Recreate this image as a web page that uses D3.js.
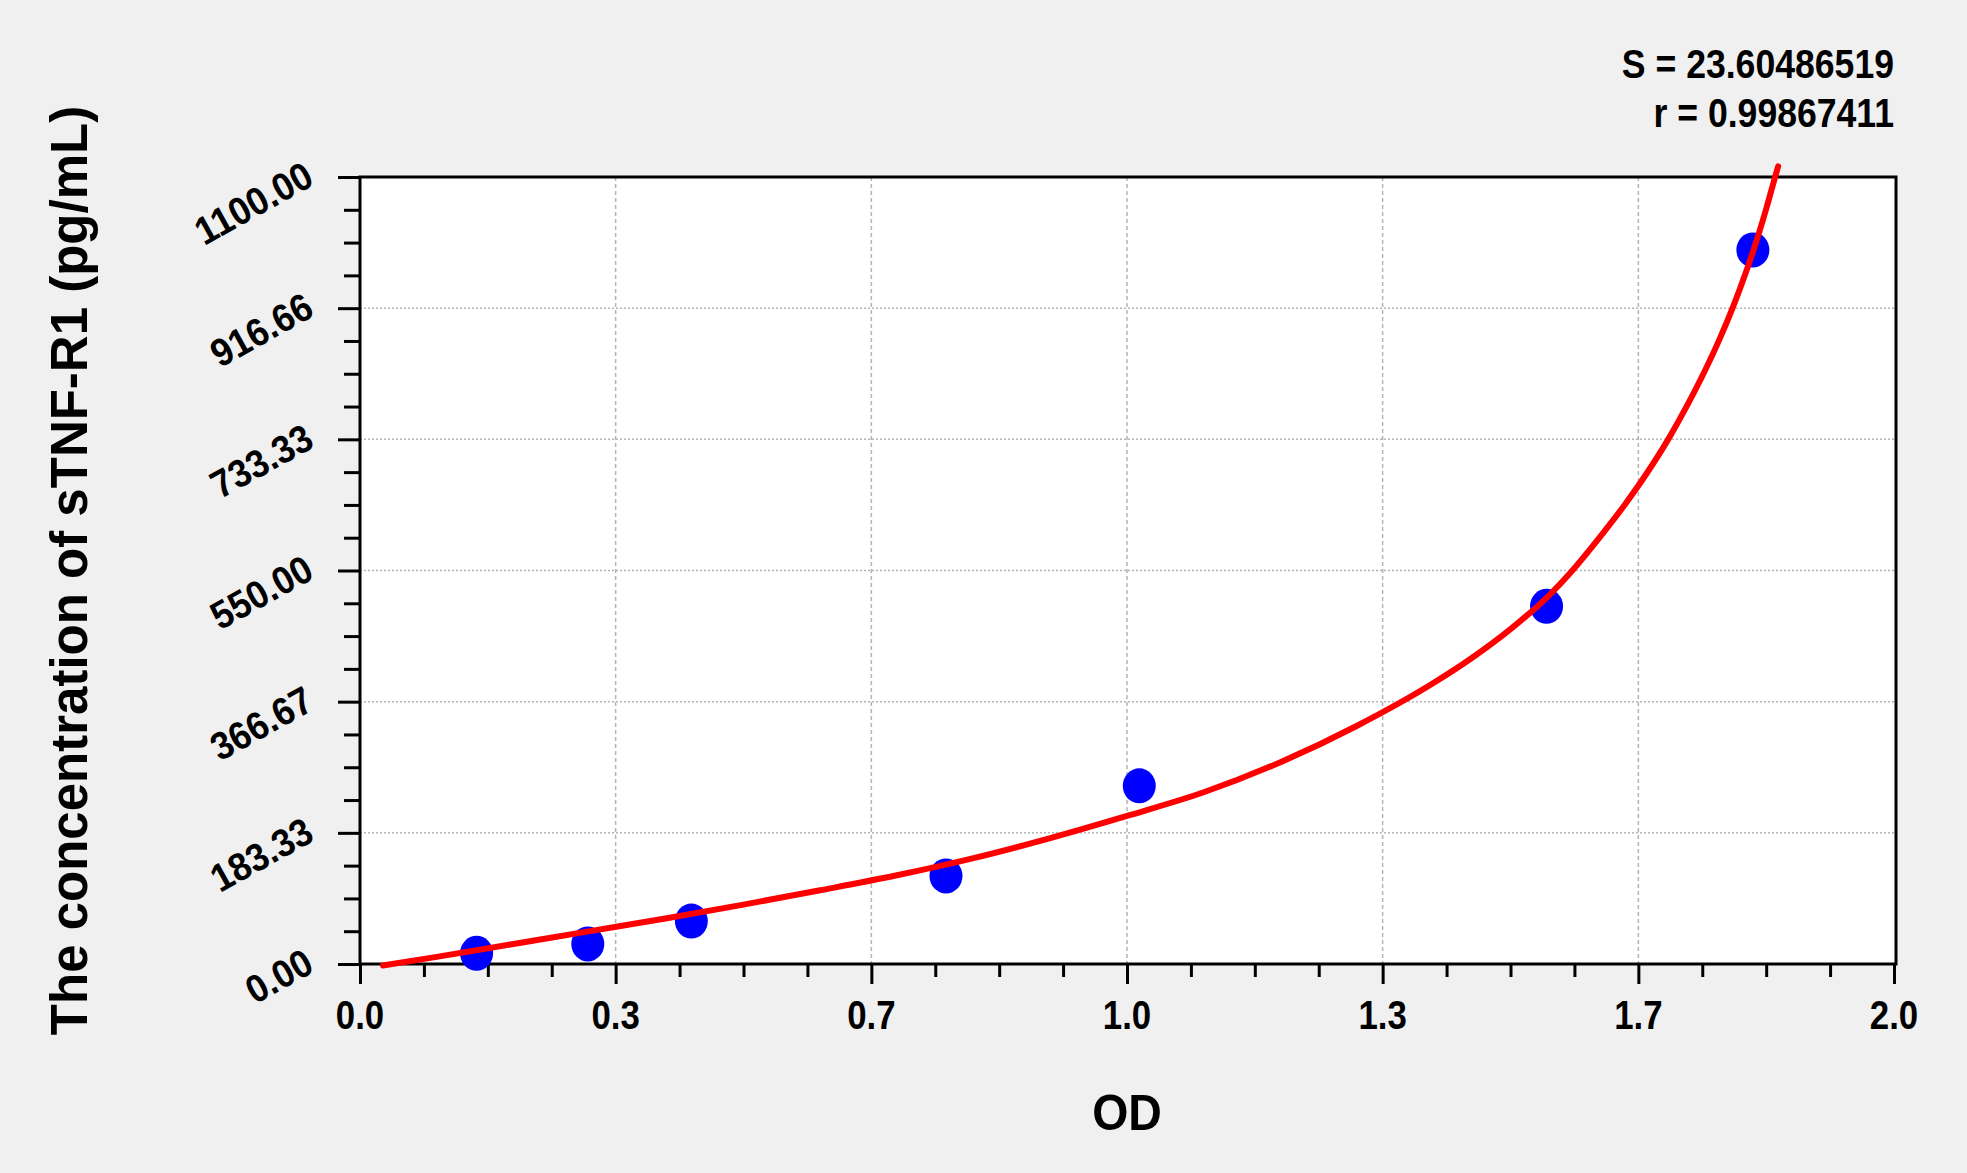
<!DOCTYPE html>
<html>
<head>
<meta charset="utf-8">
<script src="https://cdn.jsdelivr.net/npm/d3@7"></script>
<style>
    body { margin: 0; background: #f0f0f0; }
    text { font-family: 'Liberation Sans', Arial, sans-serif; font-weight: bold; fill: #000; }
</style>
</head>
<body>
<svg width="1967" height="1173"></svg>
<script>
// standards (OD vs concentration)
const odValues = [0.152, 0.297, 0.432, 0.764, 1.016, 1.547, 1.816];
const concValues = [15, 28, 60, 123, 249, 500, 998];

// fitted curve
const fitOD = [0.03, 0.1, 0.2, 0.3, 0.4, 0.5, 0.6, 0.7, 0.8, 0.9,
    1.0, 1.1, 1.2, 1.3, 1.4, 1.45, 1.5, 1.55, 1.579, 1.616,
    1.649, 1.679, 1.706, 1.730, 1.752, 1.772, 1.790, 1.806, 1.8205, 1.8335,
    1.8455, 1.849];
const fitConc = [-2, 10, 28, 46, 64, 83, 103, 124, 148, 176,
    207, 240, 282, 333, 393, 428, 468, 515, 548, 596,
    642, 688, 734, 780, 826, 872, 918, 964, 1010, 1056,
    1102, 1115];

const xTickValues = [0, 0.3333, 0.6667, 1.0, 1.3333, 1.6667, 2.0];
const xTickLabels = ['0.0', '0.3', '0.7', '1.0', '1.3', '1.7', '2.0'];
const yTickValues = [0, 183.33, 366.67, 550, 733.33, 916.66, 1100];
const yTickLabels = ['0.00', '183.33', '366.67', '550.00', '733.33', '916.66', '1100.00'];

const statLines = ['S = 23.60486519', 'r = 0.99867411'];
const xTitle = 'OD';
const yTitle = 'The concentration of sTNF-R1 (pg/mL)';

const svg = d3.select('svg');

const plot = { left: 360, right: 1894, top: 177, bottom: 964 };

const xScale = d3.scaleLinear().domain([0, 2]).range([plot.left, plot.right]);
const yScale = d3.scaleLinear().domain([0, 1100]).range([plot.bottom, plot.top]);

// minor ticks: 4 per major interval
const xMinor = [];
for (let i = 0; i < xTickValues.length - 1; i++) {
    const step = (xTickValues[i + 1] - xTickValues[i]) / 4;
    for (let k = 1; k < 4; k++) xMinor.push(xTickValues[i] + k * step);
}
const yMinor = [];
for (let i = 0; i < yTickValues.length - 1; i++) {
    const step = (yTickValues[i + 1] - yTickValues[i]) / 4;
    for (let k = 1; k < 4; k++) yMinor.push(yTickValues[i] + k * step);
}

// plot background
svg.append('rect')
    .attr('x', plot.left)
    .attr('y', plot.top)
    .attr('width', 1896 - plot.left)
    .attr('height', plot.bottom - plot.top)
    .attr('fill', '#fff');

// grid
svg.append('g')
    .selectAll('line')
    .data(xTickValues.slice(1, -1))
    .enter()
    .append('line')
    .attr('x1', d => xScale(d))
    .attr('x2', d => xScale(d))
    .attr('y1', plot.top)
    .attr('y2', plot.bottom)
    .attr('stroke', '#b4b4b4')
    .attr('stroke-width', 1.5)
    .attr('stroke-dasharray', '4,3');

svg.append('g')
    .selectAll('line')
    .data(yTickValues.slice(1, -1))
    .enter()
    .append('line')
    .attr('x1', plot.left)
    .attr('x2', 1896)
    .attr('y1', d => yScale(d))
    .attr('y2', d => yScale(d))
    .attr('stroke', '#b4b4b4')
    .attr('stroke-width', 1.5)
    .attr('stroke-dasharray', '2,2');

// axes (ticks only, labels drawn separately)
function tickAxis(axis, values, size) {
    return axis.tickValues(values).tickSize(size).tickSizeOuter(0).tickFormat('');
}

[[xMinor, 13], [xTickValues, 20]].forEach(function(t) {
    const g = svg.append('g')
        .attr('transform', `translate(0,${plot.bottom})`)
        .call(tickAxis(d3.axisBottom(xScale), t[0], t[1]));
    g.select('.domain').remove();
    g.selectAll('line').attr('stroke', '#000').attr('stroke-width', 3);
});

[[yMinor, 16], [yTickValues, 22]].forEach(function(t) {
    const g = svg.append('g')
        .attr('transform', `translate(${plot.left},0)`)
        .call(tickAxis(d3.axisLeft(yScale), t[0], t[1]));
    g.select('.domain').remove();
    g.selectAll('line').attr('stroke', '#000').attr('stroke-width', 3);
});

// frame
svg.append('rect')
    .attr('x', plot.left)
    .attr('y', plot.top)
    .attr('width', 1896 - plot.left)
    .attr('height', plot.bottom - plot.top)
    .attr('fill', 'none')
    .attr('stroke', '#000')
    .attr('stroke-width', 3);

// tick labels
svg.append('g')
    .selectAll('text')
    .data(xTickValues)
    .enter()
    .append('text')
    .attr('transform', d => `translate(${xScale(d)},1029) scale(0.87,1)`)
    .attr('text-anchor', 'middle')
    .style('font-size', '40px')
    .text((d, i) => xTickLabels[i]);

svg.append('g')
    .selectAll('text')
    .data(yTickValues)
    .enter()
    .append('text')
    .attr('transform', d => `translate(316,${yScale(d) + 7}) rotate(-29) scale(0.92,1)`)
    .attr('text-anchor', 'end')
    .style('font-size', '39px')
    .text((d, i) => yTickLabels[i]);

// titles
svg.append('text')
    .attr('transform', `translate(${(plot.left + plot.right) / 2},1130) scale(0.93,1)`)
    .attr('text-anchor', 'middle')
    .style('font-size', '50px')
    .text(xTitle);

svg.append('text')
    .attr('transform', `translate(87,${(plot.top + plot.bottom) / 2}) rotate(-90)`)
    .attr('text-anchor', 'middle')
    .style('font-size', '51px')
    .text(yTitle);

svg.append('g')
    .selectAll('text')
    .data(statLines)
    .enter()
    .append('text')
    .attr('transform', (d, i) => `translate(1894,${78 + i * 49}) scale(0.89,1)`)
    .attr('text-anchor', 'end')
    .style('font-size', '40px')
    .text(d => d);

// standards
svg.append('g')
    .selectAll('ellipse')
    .data(odValues)
    .enter()
    .append('ellipse')
    .attr('cx', d => xScale(d))
    .attr('cy', (d, i) => yScale(concValues[i]))
    .attr('rx', 16.5)
    .attr('ry', 17.5)
    .attr('fill', '#0000ff');

// fitted curve
const line = d3.line()
    .x(d => xScale(d[0]))
    .y(d => yScale(d[1]))
    .curve(d3.curveMonotoneX);

svg.append('path')
    .datum(fitOD.map((d, i) => [d, fitConc[i]]))
    .attr('d', line)
    .attr('fill', 'none')
    .attr('stroke', '#ff0000')
    .attr('stroke-width', 6)
    .attr('stroke-linecap', 'round');
</script>
</body>
</html>
